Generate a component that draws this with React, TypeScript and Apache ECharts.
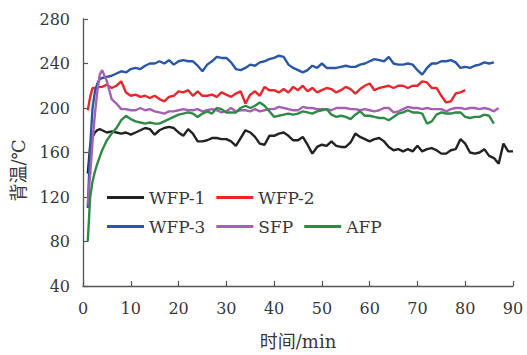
import React, { useEffect, useRef } from "react";
import * as echarts from "echarts";

// time axis (min)
const time = [
  1, 1.5, 2, 2.5, 3, 3.5, 4, 5, 6, 7, 8, 9, 10, 11, 12, 13, 14, 15, 16, 17, 18, 19, 20,
  21, 22, 23, 24, 25, 26, 27, 28, 29, 30, 31, 32, 33, 34, 35, 36, 37, 38, 39, 40,
  41, 42, 43, 44, 45, 46, 47, 48, 49, 50, 51, 52, 53, 54, 55, 56, 57, 58, 59, 60,
  61, 62, 63, 64, 65, 66, 67, 68, 69, 70, 71, 72, 73, 74, 75, 76, 77, 78, 79, 80,
  81, 82, 83, 84, 85, 86, 87, 88, 89, 90,
];

const seriesNames = ["WFP-1", "WFP-2", "WFP-3", "SFP", "AFP"];

const wfp1 = [
  141, 166, 174, 178, 180, 181, 180,
  178, 179, 178, 177, 178, 176, 178, 180, 182, 181, 176, 180, 182, 183, 182, 178, 175, 181,
  177, 170, 170, 171, 173, 173, 172, 172, 170, 166, 173, 180, 178, 174, 168, 167, 175, 175, 177, 178, 175, 171,
  171, 174, 167, 159, 165, 167, 166, 170, 166, 165, 165, 169, 177, 174, 172, 170, 172, 173, 170, 165, 162, 163,
  161, 163, 161, 166, 161, 163, 164, 162, 159, 159, 162, 163, 172, 168, 160, 159, 160, 163, 157, 155, 150, 168, 161, 161,
];

const wfp2 = [
  198, 210, 218, 218, 218, 219, 219,
  221, 218, 220, 224, 214, 211, 212, 210, 211, 209, 211, 208, 206, 210, 211, 215, 214, 216,
  211, 215, 211, 211, 212, 210, 214, 212, 210, 213, 215, 204, 212, 215, 211, 219, 216, 216, 214, 217, 214, 219,
  216, 220, 215, 218, 214, 216, 218, 217, 214, 216, 219, 217, 213, 217, 220, 222, 216, 218, 219, 220, 218, 220,
  220, 218, 220, 220, 224, 223, 218, 218, 211, 205, 206, 213, 214, 216,
];

const wfp3 = [
  110, 165, 200, 215, 222, 226, 227,
  228, 229, 231, 233, 232, 235, 236, 235, 238, 240, 240, 242, 240, 243, 239, 242, 243, 242,
  242, 238, 233, 239, 242, 246, 245, 245, 241, 235, 234, 236, 239, 238, 241, 242, 244, 245, 247, 246, 239, 236,
  234, 232, 234, 238, 236, 240, 236, 236, 236, 237, 238, 237, 237, 239, 240, 242, 244, 243, 242, 246, 240, 239,
  239, 240, 239, 234, 230, 236, 240, 240, 242, 242, 243, 241, 236, 237, 236, 238, 239, 241, 240, 241,
];

const sfp = [
  113, 140, 170, 195, 215, 230, 234,
  224, 208, 204, 199, 199, 198, 198, 200, 198, 199, 197, 196, 195, 197, 197, 198, 199, 198,
  198, 199, 197, 198, 199, 198, 196, 197, 200, 197, 198, 198, 197, 199, 197, 198, 199, 199, 201, 200, 199, 198,
  198, 201, 200, 200, 199, 199, 199, 198, 200, 200, 200, 199, 199, 198, 199, 198, 197, 198, 200, 200, 196, 197,
  199, 201, 200, 200, 199, 200, 199, 199, 199, 197, 199, 200, 200, 199, 200, 200, 199, 200, 199, 197, 200,
];

const afp = [
  80, 120, 134, 143, 150, 156, 162,
  171, 177, 182, 189, 193, 190, 188, 187, 186, 187, 186, 186, 188, 190, 192, 194, 195, 196,
  195, 192, 195, 197, 195, 200, 199, 196, 196, 196, 200, 202, 200, 202, 205, 202, 197, 192, 193, 194, 195, 194,
  195, 197, 196, 195, 197, 198, 199, 194, 192, 193, 192, 190, 194, 197, 193, 193, 192, 191, 191, 189, 192, 195,
  196, 198, 196, 196, 195, 186, 188, 194, 196, 195, 195, 196, 196, 192, 191, 192, 192, 194, 193, 186,
];

const seriesValues = [wfp1, wfp2, wfp3, sfp, afp];
const colors = ["#222222", "#e8262d", "#2a56a8", "#a660b3", "#2f8a46"];

const xTicks = { min: 0, max: 90, interval: 10 };
const yTicks = { min: 40, max: 280, interval: 40 };

const FONT = "'DejaVu Serif', 'Noto Sans CJK SC', serif";
const TEXT = "#383838";
const AXIS = "#555555";

export default function App() {
  const ref = useRef<HTMLDivElement>(null);
  useEffect(() => {
    if (!ref.current) return;
    const chart = echarts.init(ref.current, null, { renderer: "svg" });
    const legendText = { fontFamily: FONT, fontSize: 17, color: TEXT };
    chart.setOption({
      animation: false,
      color: colors,
      grid: { left: 83, right: 14, top: 19, bottom: 66 },
      legend: [
        {
          data: seriesNames.slice(0, 2),
          left: 107,
          top: 189,
          padding: 0,
          icon: "rect",
          itemWidth: 37,
          itemHeight: 3,
          itemGap: 11,
          textStyle: legendText,
        },
        {
          data: seriesNames.slice(2),
          left: 107,
          top: 218,
          padding: 0,
          icon: "rect",
          itemWidth: 37,
          itemHeight: 3,
          itemGap: 11,
          textStyle: legendText,
        },
      ],
      xAxis: {
        type: "value",
        min: xTicks.min,
        max: xTicks.max,
        interval: xTicks.interval,
        name: "时间/min",
        nameLocation: "middle",
        nameGap: 46,
        nameTextStyle: { fontFamily: FONT, fontSize: 18, color: TEXT },
        axisLine: { lineStyle: { color: AXIS, width: 1.3 } },
        axisTick: { inside: true, length: 5, lineStyle: { color: AXIS, width: 1.2 } },
        axisLabel: { fontFamily: FONT, fontSize: 16, color: TEXT, margin: 14 },
        splitLine: { show: false },
      },
      yAxis: {
        type: "value",
        min: yTicks.min,
        max: yTicks.max,
        interval: yTicks.interval,
        name: "背温/℃",
        nameLocation: "middle",
        nameGap: 56,
        nameTextStyle: {
          fontFamily: FONT,
          fontSize: 18,
          color: TEXT,
          padding: [0, 36, 0, 0],
        },
        axisLine: { show: true, lineStyle: { color: AXIS, width: 1.3 } },
        axisTick: { show: true, inside: true, length: 5, lineStyle: { color: AXIS, width: 1.2 } },
        axisLabel: { fontFamily: FONT, fontSize: 16, color: TEXT, margin: 13 },
        splitLine: { show: false },
      },
      series: seriesNames.map((name, i) => ({
        name,
        type: "line",
        showSymbol: false,
        symbol: "none",
        data: seriesValues[i].map((v, j) => [time[j], v]),
        lineStyle: { width: 2.4, color: colors[i] },
        itemStyle: { color: colors[i] },
      })),
    });
    return () => chart.dispose();
  }, []);
  return (
    <div
      ref={ref}
      style={{ position: "absolute", left: 0, top: 0, width: 527, height: 355 }}
    />
  );
}
